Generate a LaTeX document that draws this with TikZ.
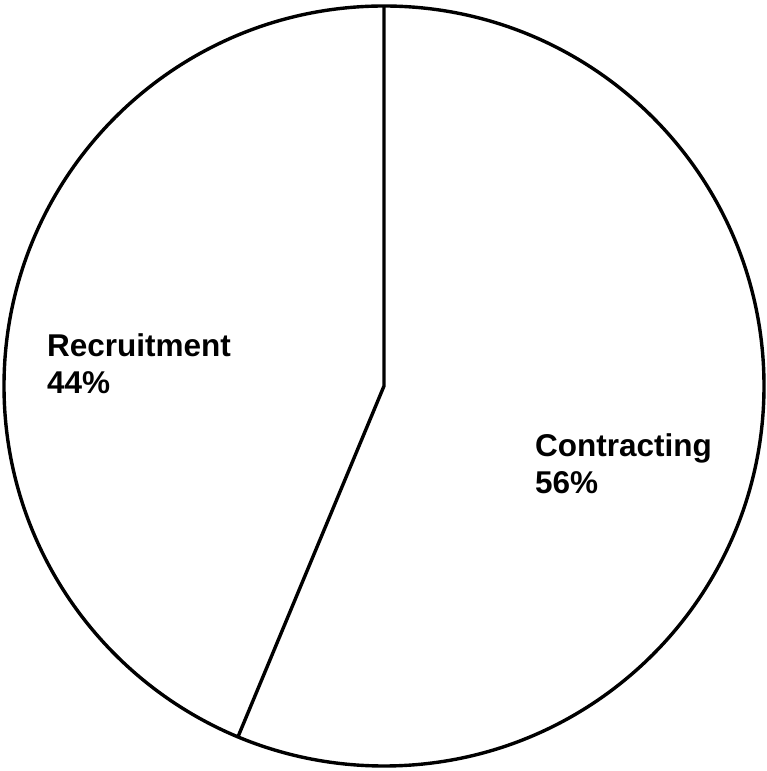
\documentclass[tikz,border=0pt]{standalone}
\usepackage{fontspec}
\setmainfont{Liberation Sans}
\usetikzlibrary{calc}
\tikzstyle{slice}=[draw,line width=3.4pt]
\tikzstyle{slicetext}=[font=\fontsize{31.5}{37}\selectfont\bfseries,align=left,inner sep=0pt,anchor=base west]

\begin{document}
\begin{tikzpicture}[x=1pt,y=1pt]
    \useasboundingbox (0,0) rectangle (767,771);
    % centre and the two cut points on the rim
    \coordinate (centre) at (384,385);
    \coordinate (top) at ($(centre)+(90:380)$);
    \coordinate (cut) at ($(centre)+(-112.6:380)$);
    \draw[slice] (centre) circle (380);
    % the two slices
    \draw[slice] (top) -- (centre) -- (cut);
    % labels
    \foreach \pos/\name/\text in {{(47,377)/recruit/Recruitment\\44\%}, {(535,277)/contract/Contracting\\56\%}}
        \node[slicetext] (\name) at \pos {\text};
\end{tikzpicture}
\end{document}
